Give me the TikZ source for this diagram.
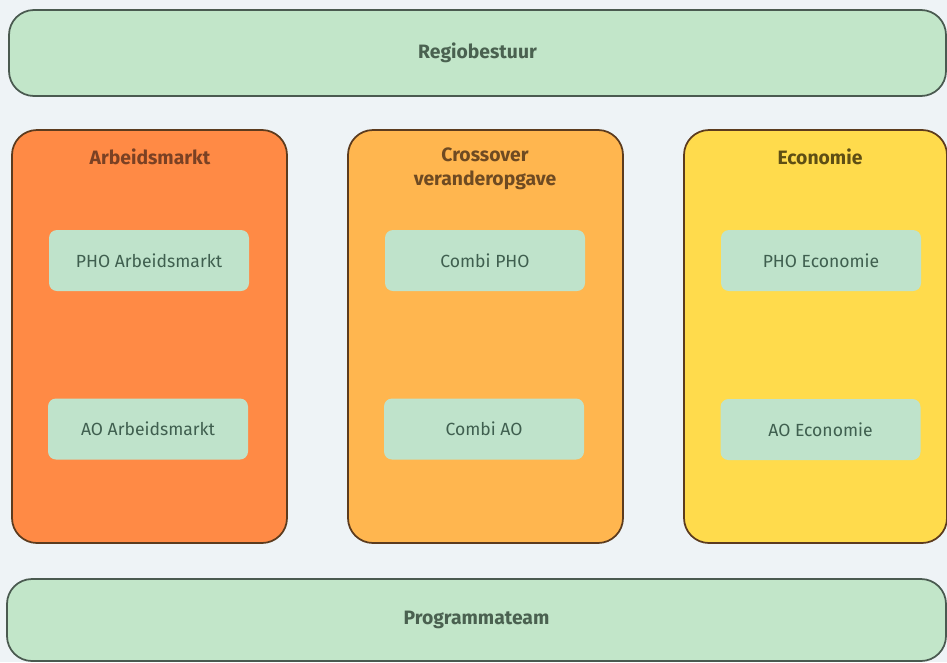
\documentclass[tikz,border=0pt]{standalone}
\usepackage{fontspec}
\setmainfont{Fira Sans}
\usepackage{xcolor}
\usepackage{tikz}

\definecolor{bgblue}{HTML}{EEF3F6}
\definecolor{mint}{HTML}{C2E6C9}
\definecolor{mintbox}{HTML}{BFE3CB}
\definecolor{mintline}{HTML}{4A5A50}
\definecolor{mintText}{HTML}{4A6150}
\definecolor{boxText}{HTML}{3F5F4F}
\definecolor{orangeA}{HTML}{FF8A45}
\definecolor{orangeB}{HTML}{FFB64F}
\definecolor{yellowC}{HTML}{FFDB4C}
\definecolor{brownline}{HTML}{5C3B1E}
\definecolor{titleA}{HTML}{7A4124}
\definecolor{titleB}{HTML}{6E4A22}
\definecolor{titleC}{HTML}{5E4E14}

\begin{document}
\begin{tikzpicture}[
      band/.style={rectangle, draw=mintline, line width=1pt, fill=mint, rounded corners=0.5cm,
        minimum height=1.72cm, font=\bfseries\fontsize{11}{13}\selectfont, text=mintText},
      column/.style={rectangle, draw=brownline, line width=1pt, rounded corners=0.5cm,
        minimum width=5.5cm, minimum height=8.26cm},
      title/.style={font=\bfseries\fontsize{11}{13.6}\selectfont, align=center},
      inner/.style={rectangle, fill=mintbox, rounded corners=0.16cm, minimum width=4cm,
        minimum height=1.22cm, font=\fontsize{10}{12}\selectfont, text=boxText}
      ]
      \fill[bgblue] (0,0) rectangle (18.94,-13.24);
      \useasboundingbox (0,0) rectangle (18.94,-13.24);

      \node[band, minimum width=18.74cm] (regio) at (9.55,-1.06) {Regiobestuur};
      \node[band, minimum width=18.78cm, minimum height=1.64cm] (team) at (9.53,-12.4) {Programmateam};

      \node[column, fill=orangeA] (arbeid) at (2.99,-6.73) {};
      \node[column, fill=orangeB] (cross) at (9.71,-6.73) {};
      \node[column, fill=yellowC, minimum width=5.26cm] (econ) at (16.31,-6.73) {};

      \node[title, text=titleA] (arbeidTitle) at (3.0,-3.14) {Arbeidsmarkt};
      \node[title, text=titleB] (crossTitle) at (9.7,-3.38) {Crossover\\veranderopgave};
      \node[title, text=titleC] (econTitle) at (16.4,-3.14) {Economie};

      \node[inner] (phoArbeid) at (2.98,-5.21) {PHO Arbeidsmarkt};
      \node[inner] (aoArbeid) at (2.96,-8.58) {AO Arbeidsmarkt};
      \node[inner] (phoCombi) at (9.7,-5.21) {Combi PHO};
      \node[inner] (aoCombi) at (9.68,-8.58) {Combi AO};
      \node[inner] (phoEcon) at (16.42,-5.21) {PHO Economie};
      \node[inner] (aoEcon) at (16.41,-8.59) {AO Economie};
    \end{tikzpicture}
\end{document}
